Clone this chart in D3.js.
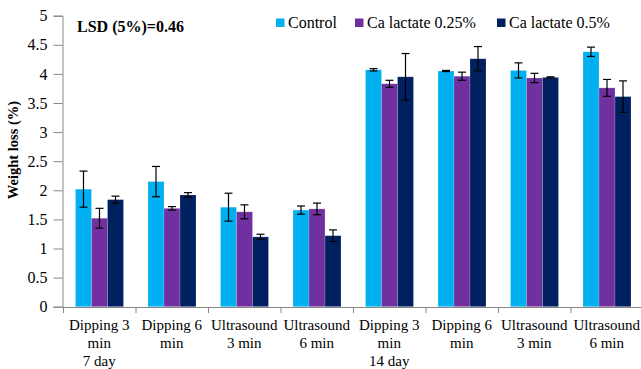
<!DOCTYPE html>
<html>
  <head>
    <script src="https://d3js.org/d3.v7.min.js"></script>
    <style>
body { margin: 0; background: #fff; }
    </style>
  </head>
  <body>
    <script>
var categories = ["d3m7", "d6m7", "u3m7", "u6m7", "d3m14", "d6m14", "u3m14", "u6m14"];
var categoryLines = [
	["Dipping 3", "min", "7 day"], ["Dipping 6", "min"], ["Ultrasound", "3 min"], ["Ultrasound", "6 min"],
	["Dipping 3", "min", "14 day"], ["Dipping 6", "min"], ["Ultrasound", "3 min"], ["Ultrasound", "6 min"]
];
var series = ["Control", "Ca lactate 0.25%", "Ca lactate 0.5%"];
var colors = ["#00b0f0", "#7030a0", "#002060"];

var control = [2.02, 2.15, 1.71, 1.66, 4.07, 4.05, 4.06, 4.38];
var lactate025 = [1.52, 1.69, 1.63, 1.68, 3.83, 3.96, 3.93, 3.76];
var lactate05 = [1.84, 1.92, 1.20, 1.22, 3.95, 4.26, 3.94, 3.61];

var controlErr = [0.31, 0.26, 0.24, 0.07, 0.02, 0.01, 0.13, 0.08];
var lactate025Err = [0.17, 0.03, 0.12, 0.10, 0.06, 0.07, 0.08, 0.145];
var lactate05Err = [0.06, 0.04, 0.045, 0.10, 0.40, 0.21, 0.01, 0.27];

var yTicks = [0, 0.5, 1, 1.5, 2, 2.5, 3, 3.5, 4, 4.5, 5];

var values = [control, lactate025, lactate05];
var errors = [controlErr, lactate025Err, lactate05Err];

var FONT = "'Liberation Serif', 'Times New Roman', 'DejaVu Serif', serif";

var svg = d3.select("body").append("svg").attr("width", 641).attr("height", 369)
	.attr("font-family", FONT);

var y = d3.scaleLinear().domain([0, 5]).range([306.7, 15.7]);
var x0 = d3.scaleBand().domain(categories).range([63, 643]);
var x1 = d3.scaleBand().domain(series).range([12.5, 60.5]);
var xEdges = d3.scaleLinear().domain([0, 8]).range([63, 643]);

// y axis
var yAxis = svg.append("g").attr("transform", "translate(62.5,0)")
	.call(d3.axisLeft(y).tickValues(yTicks).tickSize(9).tickPadding(6).tickFormat(d3.format("")));
yAxis.attr("font-family", FONT).attr("font-size", 16);
yAxis.selectAll("path, line").attr("stroke", "#868686");
yAxis.selectAll("text").attr("fill", "#000");

// x axis (ticks at category edges)
var xAxis = svg.append("g").attr("transform", "translate(0," + 307 + ")")
	.call(d3.axisBottom(xEdges).ticks(8).tickSize(6).tickSizeOuter(0).tickFormat(""));
xAxis.selectAll("path, line").attr("stroke", "#868686");

// bars
var rows = [];
categories.forEach(function (c, i) {
	series.forEach(function (s, j) {
		rows.push({ cat: c, ser: s, j: j, v: values[j][i], e: errors[j][i] });
	});
});

svg.append("g").selectAll("rect").data(rows).enter().append("rect")
	.attr("x", function (d) { return x0(d.cat) + x1(d.ser); })
	.attr("y", function (d) { return y(d.v); })
	.attr("width", x1.bandwidth())
	.attr("height", function (d) { return y(0) - y(d.v); })
	.attr("fill", function (d) { return colors[d.j]; })
	.attr("stroke", "rgba(255,255,255,0.3)")
	.attr("stroke-width", 0.6);

// error bars
var eb = svg.append("g").attr("stroke", "#000").attr("stroke-width", 1.2);
rows.forEach(function (d) {
	var cx = x0(d.cat) + x1(d.ser) + x1.bandwidth() / 2;
	var t = y(d.v + d.e), b = y(d.v - d.e);
	eb.append("line").attr("x1", cx).attr("x2", cx).attr("y1", t).attr("y2", b);
	eb.append("line").attr("x1", cx - 4).attr("x2", cx + 4).attr("y1", t).attr("y2", t);
	eb.append("line").attr("x1", cx - 4).attr("x2", cx + 4).attr("y1", b).attr("y2", b);
});

// category labels
categories.forEach(function (c, i) {
	var cx = x0(c) + x0.bandwidth() / 2;
	var t = svg.append("text").attr("text-anchor", "middle").attr("font-size", 15)
		.attr("font-family", FONT).attr("fill", "#000")
		.attr("x", cx).attr("y", 330);
	categoryLines[i].forEach(function (line, k) {
		t.append("tspan").attr("x", cx).attr("dy", k === 0 ? 0 : 18).text(line);
	});
});

// y title
svg.append("text").attr("transform", "translate(18,150) rotate(-90)")
	.attr("text-anchor", "middle").attr("font-size", 14.5).attr("font-weight", "bold")
	.attr("font-family", FONT).text("Weight loss (%)");

// LSD note
svg.append("text").attr("x", 77).attr("y", 32).attr("font-size", 16).attr("font-weight", "bold")
	.attr("font-family", FONT).text("LSD (5%)=0.46");

// legend
var legendX = [276, 355, 497];
series.forEach(function (s, j) {
	svg.append("rect").attr("x", legendX[j]).attr("y", 18.5).attr("width", 8.5).attr("height", 8.5).attr("fill", colors[j]);
	svg.append("text").attr("x", legendX[j] + 12).attr("y", 28).attr("font-size", 16)
		.attr("font-family", FONT).text(s);
});
    </script>
  </body>
</html>
